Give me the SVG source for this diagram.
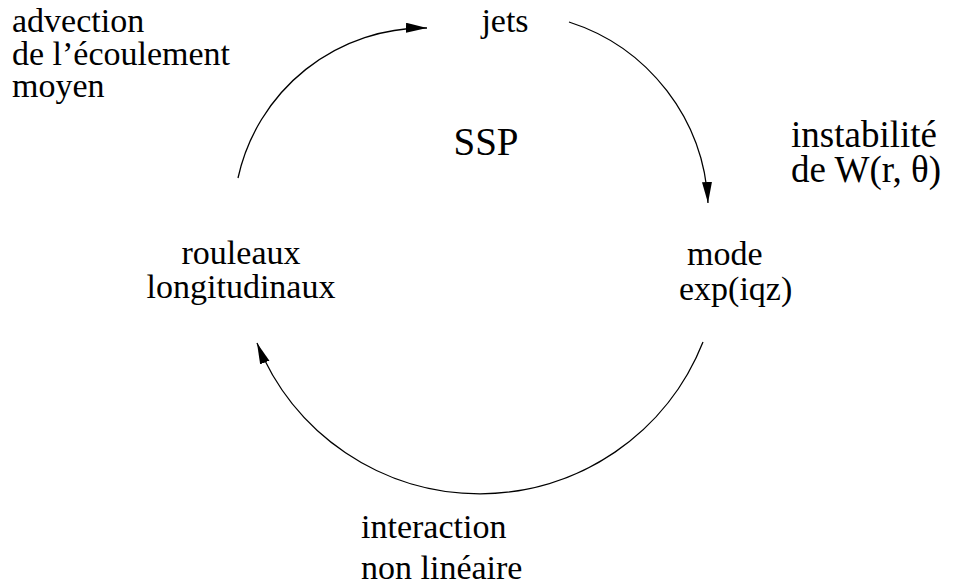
<svg xmlns="http://www.w3.org/2000/svg" width="956" height="587" viewBox="0 0 956 587">
<style>
  .t { font-family: 'Liberation Serif', 'Tinos', 'DejaVu Serif', serif; fill: #000; font-size: 34px; }
  .c { text-anchor: middle; }
  .arc { fill: none; stroke: #000; stroke-width: 1.3; }
</style>
<defs>
  <marker id="ah" markerUnits="userSpaceOnUse" markerWidth="22" markerHeight="12" refX="21" refY="5" orient="auto">
    <path d="M0,0 L21,5 L0,10 z" fill="#000"/>
  </marker>
</defs>
<rect width="956" height="587" fill="#fff"/>
<g id="connectors">
  <path class="arc" d="M238,178 A191,191 0 0 1 427,28" marker-end="url(#ah)"/>
  <path class="arc" d="M569,22 A200,200 0 0 1 708,203" marker-end="url(#ah)"/>
  <path class="arc" d="M703,342 A240,240 0 0 1 257,343" marker-end="url(#ah)"/>
</g>
<g class="t" font-family="Liberation Serif, serif">
<g id="jets"><text class="c" x="505" y="32">jets</text></g>
<g id="ssp"><text class="c" x="486" y="155" font-size="39">SSP</text></g>
<g id="mode"><text x="687" y="265">mode</text><text x="679" y="300">exp(iqz)</text></g>
<g id="rouleaux"><text class="c" x="241" y="264">rouleaux</text><text class="c" x="241" y="298">longitudinaux</text></g>
<g id="advection"><text x="12" y="32">advection</text><text x="12" y="65">de l’écoulement</text><text x="12" y="97">moyen</text></g>
<g id="instabilite" font-size="37"><text x="791" y="147" font-size="37">instabilité</text><text x="791" y="182" font-size="37">de W(r, θ)</text></g>
<g id="interaction"><text x="361" y="538">interaction</text><text x="361" y="579">non linéaire</text></g>
</g>
</svg>
